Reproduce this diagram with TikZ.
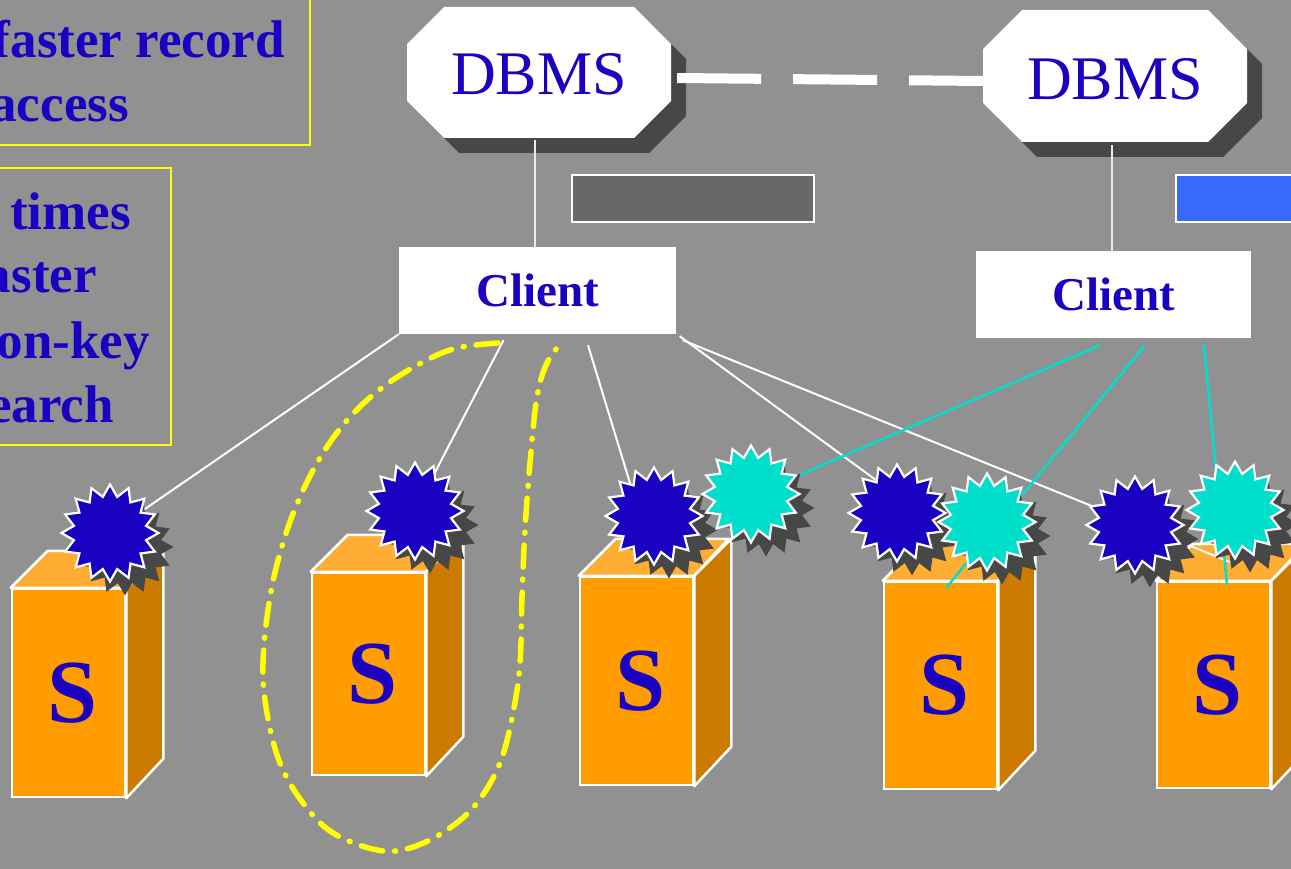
\documentclass[tikz,border=0pt]{standalone}
\usepackage{fontspec}
\setmainfont{Liberation Serif}
\usetikzlibrary{shapes.geometric,shadows}

\definecolor{bggray}{RGB}{145,145,145}
\definecolor{txtblue}{RGB}{26,0,192}
\definecolor{shadowgray}{RGB}{71,71,71}
\definecolor{bargray}{RGB}{104,104,104}
\definecolor{barblue}{RGB}{55,105,250}
\definecolor{frontor}{RGB}{255,156,0}
\definecolor{topor}{RGB}{255,173,51}
\definecolor{sideor}{RGB}{204,122,0}
\definecolor{burstcyan}{RGB}{0,222,204}
\definecolor{noteyellow}{RGB}{255,255,0}

% chamfered octagon with a flat shadow: x1 y1 x2 y2 cut colour
\newcommand\octfill[6]{%
  \fill[#6] (#1+#5,#2) -- (#3-#5,#2) -- (#3,#2+#5) -- (#3,#4-#5)
    -- (#3-#5,#4) -- (#1+#5,#4) -- (#1,#4-#5) -- (#1,#2+#5) -- cycle;}

% server cuboid: name, centre x, centre y, height
\newcommand\server[4]{%
  \node[frontface, minimum height=#4] (#1) at (#2,#3) {\kern8pt S};
  \filldraw[topface] (#1.north west) -- ++(37,-37) -- ++(113,0)
    -- (#1.north east) -- cycle;
  \filldraw[sideface] (#1.north east) -- ++(37,-37) -- ++(0,#4)
    -- (#1.south east) -- cycle;}

\tikzset{
  notebox/.style={draw=noteyellow, line width=2.5pt},
  notetext/.style={text=txtblue, font=\fontsize{53}{64}\selectfont\bfseries,
    inner sep=0pt, anchor=base east},
  dbtext/.style={text=txtblue, font=\fontsize{62}{70}\selectfont,
    inner sep=0pt, minimum width=264pt, minimum height=131pt},
  client/.style={fill=white, text=txtblue,
    font=\fontsize{47}{54}\selectfont\bfseries, inner sep=0pt,
    minimum height=87pt},
  bar/.style={draw=white, line width=2.5pt, inner sep=0pt,
    minimum height=47pt},
  link/.style={draw=white!92!black, line width=2pt},
  wire/.style={draw=white, line width=2pt},
  cwire/.style={draw=burstcyan, line width=2.5pt},
  frontface/.style={fill=frontor, draw=white, line width=2.5pt,
    minimum width=113pt, inner sep=0pt, text=txtblue,
    font=\fontsize{90}{92}\selectfont\bfseries},
  topface/.style={fill=topor, draw=white, line width=2.5pt, line join=round},
  sideface/.style={fill=sideor, draw=white, line width=2.5pt, line join=round},
  burst/.style={star, star points=16, star point ratio=1.32,
    minimum size=97pt, inner sep=0pt, draw=white, line width=2.2pt,
    drop shadow={shadow xshift=15pt, shadow yshift=-14pt,
      fill=shadowgray, opacity=1}},
  loop/.style={draw=noteyellow, line width=5.5pt, line cap=round,
    dash pattern=on 22pt off 12pt on 1pt off 12pt},
}

\begin{document}
\begin{tikzpicture}[x=1pt,y=-1pt]
\useasboundingbox (0,0) rectangle (1291,869);
\fill[bggray] (0,0) rectangle (1291,869);

% notes on the left
\draw[notebox] (-10,-10) rectangle (310,145);
\node[notetext] (n1) at (285,58) {faster record};
\node[notetext] (n2) at (129,122) {access};
\draw[notebox] (-10,168) rectangle (171,445);
\node[notetext] (n3) at (131,230) {times};
\node[notetext] (n4) at (97,293) {aster};
\node[notetext] (n5) at (150,358) {on-key};
\node[notetext] (n6) at (114,422) {earch};

% bars
\node[bar, fill=bargray, minimum width=242pt] (bar1) at (693,198.5) {};
\node[bar, fill=barblue, minimum width=130pt] (bar2) at (1241,198.5) {};

% database servers
\octfill{422}{22}{686}{153}{37}{shadowgray}
\octfill{407}{7}{671}{138}{37}{white}
\octfill{998}{25}{1262}{157}{39}{shadowgray}
\octfill{983}{10}{1247}{142}{39}{white}
\node[dbtext] (db1) at (539,74) {DBMS};
\node[dbtext] (db2) at (1115,79) {DBMS};

\draw[draw=white, line width=10pt, dash pattern=on 84pt off 32pt]
  ([xshift=6pt,yshift=-4pt]db1.east) -- ([yshift=-2pt]db2.west);

% clients
\node[client, minimum width=277pt] (cl1) at (537.5,290.5) {Client};
\node[client, minimum width=275pt] (cl2) at (1113.5,294.5) {Client};
\draw[link] ([xshift=-4pt]db1.south) -- ([xshift=-2.5pt]cl1.north);
\draw[link] ([xshift=-3pt]db2.south) -- ([xshift=-1.5pt]cl2.north);

% storage servers
\server{sv1}{68.5}{693}{208}
\server{sv2}{368.5}{674}{202}
\server{sv3}{636.5}{681}{208}
\server{sv4}{940.5}{685.5}{207}
\server{sv5}{1213.5}{685}{206}

% grouping loop
\draw[loop] plot[smooth, tension=0.6] coordinates {
  (498,343) (457,348) (423,362) (383,387) (350,417) (323,453) (300,497)
  (283,543) (270,597) (263,663) (267,713) (280,763) (303,803) (333,833)
  (377,850) (410,848) (447,830) (477,803) (500,763) (513,713) (520,663)
  (522,597) (525,530) (530,463) (537,397) (547,363) (562,342)};

% burst centres and wire ends
\coordinate (s1) at (110,533);
\coordinate (s2) at (415,511);
\coordinate (s3) at (654,516);
\coordinate (s3b) at (751,494);
\coordinate (s4) at (897,513);
\coordinate (s4b) at (987,522);
\coordinate (s5) at (1135,525);
\coordinate (s6) at (1235,510);
\coordinate (t3) at (640,516);
\coordinate (t4) at (925,516);
\coordinate (t5) at (1230,562);
\coordinate (k1) at (700,518);
\coordinate (k2) at (946,588);
\coordinate (k3) at (1227,585);

% wires from the clients
\draw[wire] (cl1.south west) -- (s1);
\draw[wire] ([xshift=-34pt,yshift=-6pt]cl1.south) -- (s2);
\draw[wire] ([xshift=50.5pt,yshift=-11pt]cl1.south) -- (t3);
\draw[wire] ([xshift=3.5pt,yshift=-2pt]cl1.south east) -- (t4);
\draw[wire] ([xshift=6.5pt,yshift=-6pt]cl1.south east) -- (t5);
\draw[cwire] ([xshift=-13.5pt,yshift=-7pt]cl2.south) -- (k1);
\draw[cwire] ([xshift=31.5pt,yshift=-7pt]cl2.south) -- (k2);
\draw[cwire] ([xshift=90.5pt,yshift=-7pt]cl2.south) -- (k3);

% bursts
\node[burst, fill=txtblue] (b1) at (s1) {};
\node[burst, fill=txtblue] (b2) at (s2) {};
\node[burst, fill=txtblue] (b3) at (s3) {};
\node[burst, fill=burstcyan] (b3b) at (s3b) {};
\node[burst, fill=txtblue] (b4) at (s4) {};
\node[burst, fill=burstcyan] (b4b) at (s4b) {};
\node[burst, fill=txtblue] (b5) at (s5) {};
\node[burst, fill=burstcyan] (b6) at (s6) {};
\end{tikzpicture}
\end{document}
